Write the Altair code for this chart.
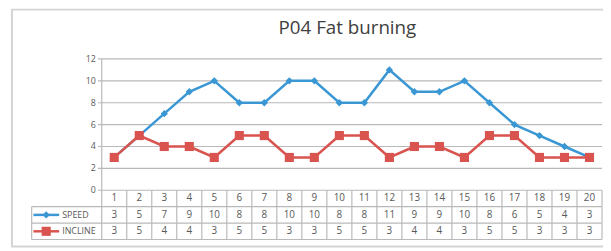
import altair as alt
import pandas as pd

# ---- data ----
chart_title = "P04 Fat burning"
categories = ["1", "2", "3", "4", "5", "6", "7", "8", "9", "10",
              "11", "12", "13", "14", "15", "16", "17", "18", "19", "20"]
speed = [3, 5, 7, 9, 10, 8, 8, 10, 10, 8, 8, 11, 9, 9, 10, 8, 6, 5, 4, 3]
incline = [3, 5, 4, 4, 3, 5, 5, 3, 3, 5, 5, 3, 4, 4, 3, 5, 5, 3, 3, 3]
series_names = ["SPEED", "INCLINE"]
y_ticks = [0, 2, 4, 6, 8, 10, 12]

# ---- styling / layout ----
BLUE = "#3a97d4"
RED = "#d9534f"
GRID = "#b9b9b9"
TEXT = "#595959"
FONT = "Open Sans"
N = len(categories)
ROW = 1.5        # table row height (y units)
LEG = 2.8        # legend column width (x units)
YMAX = 12

x_scale = alt.Scale(domain=[-LEG, N], nice=False, zero=False)
y_scale = alt.Scale(domain=[-3 * ROW, YMAX], nice=False, zero=False)
color_scale = alt.Scale(domain=series_names, range=[BLUE, RED])
shape_scale = alt.Scale(domain=series_names, range=["diamond", "square"])
size_scale = alt.Scale(domain=series_names, range=[55, 85])

# long data for the series
rows = []
for name, vals in zip(series_names, [speed, incline]):
    for i, (c, v) in enumerate(zip(categories, vals)):
        rows.append({"series": name, "idx": i, "cat": c, "value": v})
long_df = pd.DataFrame(rows)

# segments of the grid and table
segs = []
for t in y_ticks:
    segs.append({"x": -0.15, "x2": N, "y": t, "y2": t})
segs.append({"x": 0, "x2": 0, "y": YMAX, "y2": -3 * ROW})
for k in range(1, N + 1):
    segs.append({"x": k, "x2": k, "y": 0, "y2": -3 * ROW})
for r in (1, 2, 3):
    segs.append({"x": -LEG, "x2": N, "y": -r * ROW, "y2": -r * ROW})
segs.append({"x": -LEG, "x2": -LEG, "y": -ROW, "y2": -3 * ROW})
seg_df = pd.DataFrame(segs)

X = lambda f: alt.X(f, type="quantitative", scale=x_scale, axis=None)
Y = lambda f: alt.Y(f, type="quantitative", scale=y_scale, axis=None)

frame = alt.Chart(pd.DataFrame({"a": [0]})).mark_rect(
    fillOpacity=0, stroke="#d4d4d4", strokeWidth=2
).encode(x=alt.value(-20), x2=alt.value(640), y=alt.value(-50), y2=alt.value(190))

grid = alt.Chart(seg_df).mark_rule(color=GRID, strokeWidth=1.2).encode(
    x=X("x"), x2="x2", y=Y("y"), y2="y2"
)

tick_df = pd.DataFrame({"tick": y_ticks})
ylabels = alt.Chart(tick_df).mark_text(
    align="right", baseline="middle", dx=-6, fontSize=9, font=FONT, color=TEXT
).encode(x=alt.X(datum=0, type="quantitative", scale=x_scale, axis=None),
         y=Y("tick"), text="tick:Q")

base = alt.Chart(long_df).transform_calculate(xc="datum.idx + 0.5")
lines = base.mark_line(strokeWidth=2.5).encode(
    x=X("xc"), y=Y("value"),
    color=alt.Color("series:N", scale=color_scale, legend=None),
    detail="series:N",
)
points = base.mark_point(filled=True, opacity=1).encode(
    x=X("xc"), y=Y("value"),
    color=alt.Color("series:N", scale=color_scale, legend=None),
    shape=alt.Shape("series:N", scale=shape_scale, legend=None),
    size=alt.Size("series:N", scale=size_scale, legend=None),
)

cat_df = pd.DataFrame({"cat": categories, "idx": list(range(N))})
cat_text = alt.Chart(cat_df).transform_calculate(
    xc="datum.idx + 0.5", yc=str(-ROW / 2)
).mark_text(fontSize=10, font=FONT, color=TEXT, baseline="middle").encode(
    x=X("xc"), y=Y("yc"), text="cat:N"
)

val_text = base.transform_calculate(
    yc=f"datum.series == 'SPEED' ? {-1.5 * ROW} : {-2.5 * ROW}"
).mark_text(fontSize=10, font=FONT, color=TEXT, baseline="middle").encode(
    x=X("xc"), y=Y("yc"), text="value:Q"
)

leg_df = pd.DataFrame({"series": series_names, "r": [1.5, 2.5]})
leg_base = alt.Chart(leg_df).transform_calculate(
    yc=f"-datum.r * {ROW}",
    xs=f"{-LEG + 0.07}", xe=f"{-LEG + 1.1}", xm=f"{-LEG + 0.58}", xt=f"{-LEG + 1.22}"
)
leg_line = leg_base.mark_rule(strokeWidth=2.5).encode(
    x=X("xs"), x2="xe", y=Y("yc"),
    color=alt.Color("series:N", scale=color_scale, legend=None),
)
leg_pt = leg_base.mark_point(filled=True, opacity=1).encode(
    x=X("xm"), y=Y("yc"),
    color=alt.Color("series:N", scale=color_scale, legend=None),
    shape=alt.Shape("series:N", scale=shape_scale, legend=None),
    size=alt.Size("series:N", scale=size_scale, legend=None),
)
leg_txt = leg_base.mark_text(
    align="left", baseline="middle", fontSize=9, font=FONT, color=TEXT
).encode(x=X("xt"), y=Y("yc"), text="series:N")

chart = alt.layer(
    frame, grid, ylabels, lines, points, cat_text, val_text, leg_line, leg_pt, leg_txt
).properties(
    width=578, height=183,
    autosize=alt.AutoSizeParams(type="none"),
    padding={"left": 24, "top": 50, "right": 1, "bottom": 10},
    title=alt.Title(chart_title, fontSize=19, font=FONT, fontWeight="normal",
                    color="#404040", anchor="middle", dx=31, offset=-45,
                    baseline="alphabetic"),
).configure_view(strokeWidth=0).resolve_scale(
    color="shared", shape="shared", size="shared"
)

chart.save("out.html", embed_options={"renderer": "svg", "actions": False})
